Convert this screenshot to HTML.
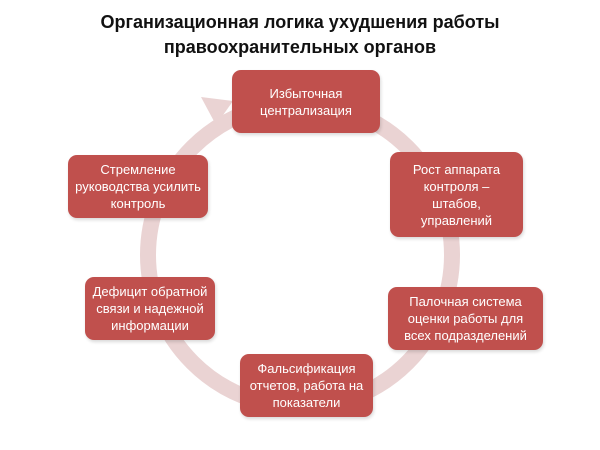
<!DOCTYPE html>
<html><head><meta charset="utf-8"><style>
body{margin:0;width:600px;height:450px;background:#fff;position:relative;overflow:hidden;font-family:"Liberation Sans","DejaVu Sans",sans-serif}
.t{position:absolute;left:0;width:600px;text-align:center;font-weight:bold;font-size:18px;color:#111;line-height:25px;top:10px}
.b{position:absolute;background:#c0504d;border-radius:9px;color:#fff;font-size:13px;line-height:17px;display:flex;align-items:center;justify-content:center;text-align:center;box-shadow:1px 2px 3px rgba(0,0,0,.15)}
</style></head><body>
<div class="t">Организационная логика ухудшения работы<br>правоохранительных органов</div>
<svg width="600" height="450" style="position:absolute;left:0;top:0">
<circle cx="300" cy="255" r="152" fill="none" stroke="#ead3d3" stroke-width="16"/>
<polygon points="201,97 233,101 216,125" fill="#ead3d3"/>
</svg>
<div class="b" style="left:232px;top:70px;width:148px;height:63px">Избыточная<br>централизация</div>
<div class="b" style="left:390px;top:152px;width:133px;height:85px">Рост аппарата<br>контроля –<br>штабов,<br>управлений</div>
<div class="b" style="left:388px;top:287px;width:155px;height:63px">Палочная система<br>оценки работы для<br>всех подразделений</div>
<div class="b" style="left:240px;top:354px;width:133px;height:63px">Фальсификация<br>отчетов, работа на<br>показатели</div>
<div class="b" style="left:85px;top:277px;width:130px;height:63px">Дефицит обратной<br>связи и надежной<br>информации</div>
<div class="b" style="left:68px;top:155px;width:140px;height:63px">Стремление<br>руководства усилить<br>контроль</div>
</body></html>
